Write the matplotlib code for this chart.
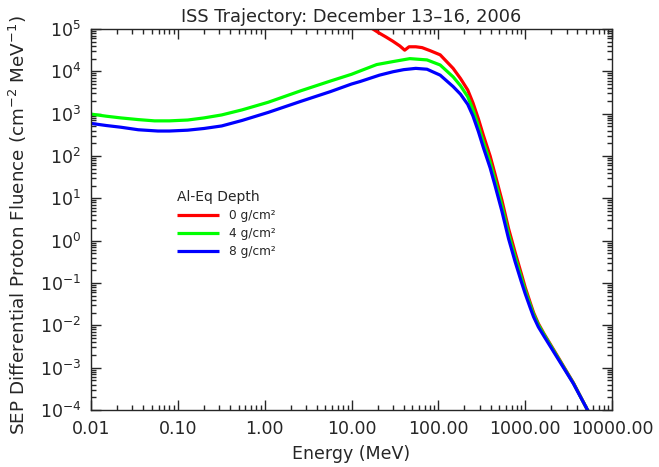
import numpy as np
import matplotlib
matplotlib.use("Agg")
import matplotlib.pyplot as plt
from matplotlib.ticker import LogLocator, FixedLocator, FuncFormatter, NullFormatter

plt.rcParams['font.family'] = ['DejaVu Sans']
plt.rcParams['mathtext.default'] = 'regular'

# ---- data ----
energy_0 = [15, 17.6, 21, 25, 30, 36, 41, 46, 55, 65, 80, 105, 148, 180, 218, 250, 289, 330,
            395, 450, 539, 643, 767, 900, 1000, 1150, 1250, 1420, 1650, 2120, 3600, 5130, 5500]
log_flu_0 = [5.09, 5.00, 4.90, 4.81, 4.71, 4.60, 4.50, 4.58, 4.58, 4.56, 4.49, 4.39, 4.07, 3.83,
             3.56, 3.26, 2.88, 2.49, 2.00, 1.57, 0.96, 0.29, -0.28, -0.77, -1.10, -1.48, -1.70,
             -1.96, -2.20, -2.57, -3.36, -3.97, -4.08]

energy_4 = [0.01, 0.015, 0.022, 0.035, 0.054, 0.08, 0.13, 0.2, 0.32, 0.55, 1.1, 2.6, 5.7, 10,
            12.6, 19.5, 30, 47, 74, 105, 148, 180, 218, 250, 289, 330, 395, 450, 539, 643, 767,
            900, 1000, 1150, 1250, 1420, 1650, 2120, 3600, 5130, 5500]
log_flu_4 = [2.99, 2.94, 2.90, 2.86, 2.83, 2.83, 2.85, 2.90, 2.97, 3.09, 3.27, 3.54, 3.77, 3.93,
             4.01, 4.16, 4.23, 4.30, 4.27, 4.15, 3.87, 3.66, 3.40, 3.10, 2.71, 2.33, 1.85, 1.43,
             0.83, 0.17, -0.39, -0.86, -1.17, -1.53, -1.74, -1.99, -2.22, -2.59, -3.37, -3.97,
             -4.08]

energy_8 = [0.01, 0.015, 0.022, 0.035, 0.059, 0.08, 0.13, 0.2, 0.32, 0.55, 1.1, 2.6, 5.7, 10,
            12.6, 21, 30, 40, 55, 74, 105, 148, 180, 218, 250, 289, 330, 395, 450, 539, 643, 767,
            900, 1000, 1150, 1250, 1420, 1650, 2120, 3600, 5130, 5500]
log_flu_8 = [2.77, 2.72, 2.68, 2.62, 2.59, 2.59, 2.61, 2.65, 2.71, 2.84, 3.03, 3.29, 3.52, 3.70,
             3.76, 3.91, 3.99, 4.04, 4.07, 4.05, 3.91, 3.64, 3.46, 3.22, 2.95, 2.58, 2.20, 1.72,
             1.30, 0.70, 0.05, -0.50, -0.96, -1.25, -1.60, -1.80, -2.04, -2.26, -2.62, -3.38,
             -3.97, -4.08]

series_labels = ["0 g/cm²", "4 g/cm²", "8 g/cm²"]
series_colors = ["#ff0000", "#00ff00", "#0000ff"]
x_tick_values = [0.01, 0.1, 1, 10, 100, 1000, 10000]
x_tick_labels = ["0.01", "0.10", "1.00", "10.00", "100.00", "1000.00", "10000.00"]
y_tick_exponents = [-4, -3, -2, -1, 0, 1, 2, 3, 4, 5]

# ---- figure ----
W, H = 659, 467
fig = plt.figure(figsize=(W / 100, H / 100), dpi=100)
ax = fig.add_axes([91 / W, 1 - 410 / H, (612 - 91) / W, (410 - 29) / H])

for e, lf, lab, col in zip([energy_0, energy_4, energy_8], [log_flu_0, log_flu_4, log_flu_8],
                           series_labels, series_colors):
    ax.plot(e, np.power(10.0, lf), color=col, lw=2.3, label=lab, solid_capstyle='butt')

ax.set_xscale('log')
ax.set_yscale('log')
ax.set_xlim(0.01, 10000)
ax.set_ylim(1e-4, 1e5)

ink = '#262626'
ax.xaxis.set_major_locator(FixedLocator(x_tick_values))
ax.xaxis.set_major_formatter(FuncFormatter(
    lambda v, p: x_tick_labels[int(np.argmin(np.abs(np.log10(x_tick_values) - np.log10(v))))]))
ax.xaxis.set_minor_locator(LogLocator(base=10, subs=np.arange(2, 10), numticks=100))
ax.xaxis.set_minor_formatter(NullFormatter())
ax.yaxis.set_major_locator(FixedLocator([10.0 ** k for k in y_tick_exponents]))
ax.yaxis.set_major_formatter(FuncFormatter(lambda v, p: r'$10^{%d}$' % round(np.log10(v))))
ax.yaxis.set_minor_locator(LogLocator(base=10, subs=np.arange(2, 10), numticks=100))
ax.yaxis.set_minor_formatter(NullFormatter())

ax.tick_params(which='both', direction='in', top=True, right=True, colors=ink, labelcolor=ink,
               labelsize=12.5, width=1)
ax.tick_params(which='major', length=7.5, pad=7)
ax.tick_params(which='minor', length=3.5)
for s in ax.spines.values():
    s.set_color(ink)
    s.set_linewidth(1.0)

ax.set_xlabel("Energy (MeV)", fontsize=12.5, color=ink, labelpad=5)
ax.set_ylabel("SEP Differential Proton Fluence (cm$^{-2}$ MeV$^{-1}$)", fontsize=13.2, color=ink)
ax.yaxis.set_label_coords(-62 / (612 - 91), (410 - 225) / (410 - 29))
ax.set_title("ISS Trajectory: December 13\u201316, 2006", fontsize=12.75, color=ink, pad=5)

leg = ax.legend(loc='upper left', bbox_to_anchor=(166 / W, 1 - 179 / H),
                bbox_transform=fig.transFigure, frameon=False, fontsize=8.7,
                title="Al-Eq Depth", title_fontsize=10, handlelength=3.5,
                handletextpad=0.85, labelspacing=0.42, alignment='left')
for t in leg.get_texts():
    t.set_color(ink)
leg.get_title().set_color(ink)

fig.savefig("out.png", dpi=100)
